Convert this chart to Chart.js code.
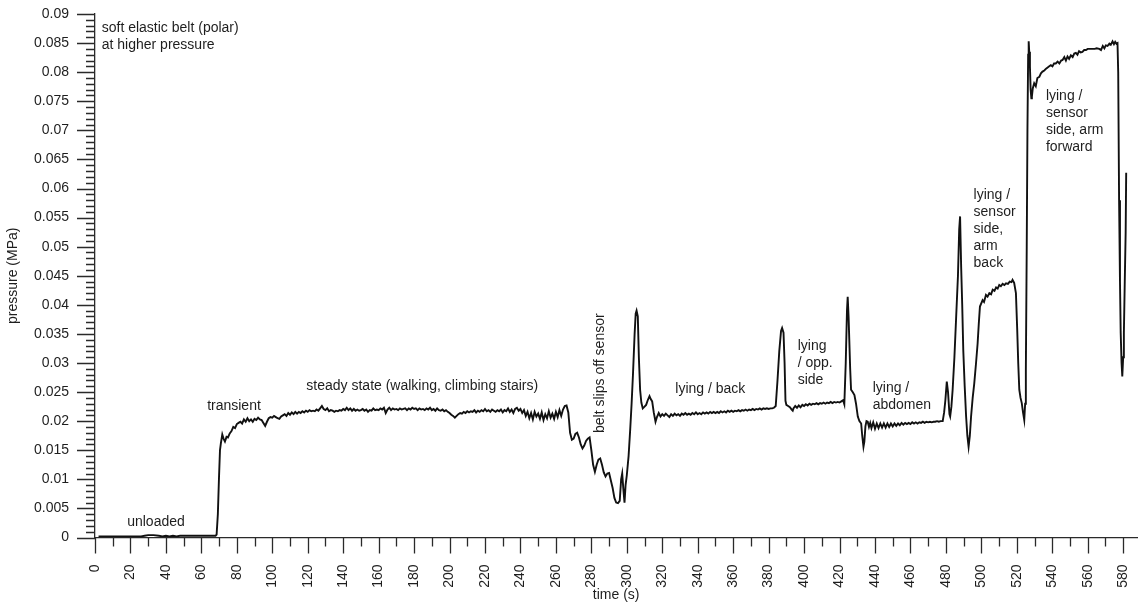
<!DOCTYPE html>
<html>
<head>
<meta charset="utf-8">
<script src="https://cdn.jsdelivr.net/npm/chart.js@4.4.1/dist/chart.umd.min.js"></script>
<style>
  html, body { margin: 0; padding: 0; background: #fff; }
  #wrap { width: 1140px; height: 604px; position: relative; }
</style>
</head>
<body>
<div id="wrap"><canvas id="trace" width="1140" height="604"></canvas></div>
<script>
// Pressure trace of the soft elastic belt, [time (s), pressure (MPa)] per phase.
const unloaded = [[2,0.0002],[6,0.0002],[10,0.0002],[14,0.0002],[18,0.0002],[22,0.0002],[26,0.0002],[28,0.0003],[30,0.0004],[33,0.0004],[36,0.0003],[38,0.0002],[40,0.0003],[42,0.0002],[44,0.0003],[46,0.0002],[48,0.0003],[52,0.0003],[56,0.0003],[60,0.0003],[64,0.0003],[68,0.0003]];

const transient = [[68.6,0.0005],[69.3,0.004],[69.9,0.0099],[70.5,0.015],[71,0.0162],[71.8,0.0177],[72.5,0.017],[73.3,0.0165],[74.2,0.0173],[75,0.0172],[76,0.0179],[77,0.0183],[78,0.019],[79,0.0188],[80,0.0195],[81,0.0197],[82,0.0199],[83,0.0196],[84,0.0203],[85,0.0199],[86,0.0205],[87,0.02],[88,0.0203],[89,0.0199],[90,0.0204],[91,0.0202],[92,0.0206],[93,0.0203],[94,0.0202],[95,0.0197],[96,0.0192],[97,0.0199],[98,0.0205],[99,0.0207]];

const steadyState = [[100,0.0206],[101,0.0209],[102,0.0207],[103,0.0205],[104,0.0204],[105,0.0208],[106,0.021],[107,0.0212],[108,0.0209],[109,0.0214],
[110,0.0211],[111,0.0215],[112,0.0212],[113,0.0216],[114,0.0213],[115,0.0216],[116,0.0214],[117,0.0217],[118,0.0215],[119,0.0218],
[120,0.0216],[121,0.0219],[122,0.0217],[123,0.0218],[124,0.0217],[125,0.022],[126,0.0218],[127,0.0222],[128,0.0226],[129,0.0221],
[130,0.0219],[131,0.0222],[132,0.0217],[133,0.0219],[134,0.0218],[135,0.0216],[136,0.0218],[137,0.0217],[138,0.0219],[139,0.0218],
[140,0.0221],[141,0.0219],[142,0.0223],[143,0.0219],[144,0.0222],[145,0.0218],[146,0.0221],[147,0.0218],[148,0.022],[149,0.0218],
[150,0.0219],[151,0.0221],[152,0.0218],[153,0.022],[154,0.0216],[155,0.0219],[156,0.0218],[157,0.0222],[158,0.0219],[159,0.022],
[160,0.0219],[161,0.0222],[162,0.022],[163,0.0223],[164,0.0214],[165,0.022],[166,0.0223],[167,0.0219],[168,0.0222],[169,0.022],
[170,0.0221],[171,0.0219],[172,0.0222],[173,0.022],[174,0.0221],[175,0.0222],[176,0.0219],[177,0.0222],[178,0.022],[179,0.0223],
[180,0.0221],[181,0.0222],[182,0.0219],[183,0.0222],[184,0.022],[185,0.0221],[186,0.0219],[187,0.0222],[188,0.022],[189,0.0223],
[190,0.0219],[191,0.0221],[192,0.0218],[193,0.0222],[194,0.0219],[195,0.0218],[196,0.022],[197,0.0217],[198,0.0219],[199,0.0216],
[200,0.0214],[201,0.0211],[202,0.0209],[203,0.0206],[204,0.0209],[205,0.0212],[206,0.0214],[207,0.0213],[208,0.0216],[209,0.0214],
[210,0.0217],[211,0.0215],[212,0.0217],[213,0.0216],[214,0.0219],[215,0.0215],[216,0.0218],[217,0.0216],[218,0.0219],[219,0.0217],
[220,0.0221],[221,0.0217],[222,0.0219],[223,0.0216],[224,0.022],[225,0.0218],[226,0.0216],[227,0.0219],[228,0.0217],[229,0.022],
[230,0.0215],[231,0.0219],[232,0.0217],[233,0.0222],[234,0.0216],[235,0.022],[236,0.0214],[237,0.0221],[238,0.0223],[239,0.0218],
[240,0.0221],[241,0.0214],[242,0.0219],[243,0.0209],[244,0.0216],[245,0.0205],[246,0.0214],[247,0.0203],[248,0.0216],[249,0.0208],
[250,0.0213],[251,0.0204],[252,0.0215],[253,0.0202],[254,0.0212],[255,0.0205],[256,0.0217],[257,0.0206],[258,0.0213],[259,0.0204],
[260,0.0216],[261,0.0207],[262,0.0219],[263,0.0209],[264,0.022],[265,0.0226],[266,0.0227],[267,0.0215]];

const beltSlip = [[268,0.018],[269,0.0168],[270,0.017],[271,0.0178],[272,0.018],[273,0.0172],[274,0.016],[275,0.0153],[276,0.0158],[277,0.0166],
[278,0.017],[279,0.0172],[280,0.015],[281,0.0125],[282,0.0113],[283,0.0125],[284,0.0134],[285,0.0136],[286,0.0125],[287,0.0112],
[288,0.0105],[289,0.011],[290,0.0111],[291,0.0098],[292,0.0085],[293,0.0068],[294,0.006],[295,0.0059],[296,0.0063],[296.8,0.01],
[297.4,0.011],[298,0.0085],[298.7,0.006],[299.3,0.009],[300,0.0107],[301,0.014],[301.9,0.0185],[302.7,0.023],[303.5,0.0282],[304.4,0.035],
[305,0.0385],[305.5,0.039],[306.2,0.038],[306.8,0.031],[307.5,0.0254],[308.2,0.0232],[309,0.0222],[310,0.0225],[310.9,0.0228],[311.8,0.0236],
[312.8,0.0243],[313.5,0.0238],[314.3,0.0234],[315.2,0.0215],[316.2,0.0199],[317,0.0207],[318,0.0214],[319,0.0208]];

const lyingBack = [[320,0.0212],[321,0.0209],[322,0.0213],[323,0.021],[324,0.0207],[325,0.0212],[326,0.0209],[327,0.0213],[328,0.021],[329,0.0212],
[330,0.0209],[331,0.0213],[332,0.0211],[333,0.0214],[334,0.0211],[335,0.0213],[336,0.0211],[337,0.0214],[338,0.0212],[339,0.0215],
[340,0.0212],[341,0.0214],[342,0.0212],[343,0.0215],[344,0.0213],[345,0.0215],[346,0.0213],[347,0.0216],[348,0.0214],[349,0.0216],
[350,0.0214],[351,0.0216],[352,0.0214],[353,0.0217],[354,0.0215],[355,0.0217],[356,0.0215],[357,0.0218],[358,0.0216],[359,0.0218],
[360,0.0216],[361,0.0218],[362,0.0217],[363,0.0219],[364,0.0217],[365,0.0219],[366,0.0218],[367,0.022],[368,0.0218],[369,0.022],
[370,0.0219],[371,0.0221],[372,0.0219],[373,0.0221],[374,0.022],[375,0.0222],[376,0.022],[377,0.0222],[378,0.0221],[379,0.0222],
[380,0.0221],[381,0.0222],[382,0.0222],[383,0.0223],[384,0.0226],[385,0.027],[386,0.032],[387,0.0355],[387.6,0.036],[388.4,0.0352],
[389,0.03],[389.5,0.0235]];

const lyingOppSide = [[390,0.0228],[391,0.0226],[392,0.0224],[393,0.022],[393.6,0.0218],[394,0.0222],[395,0.0226],[396,0.0223],[397,0.0227],[398,0.0224],
[399,0.0228],[400,0.0226],[401,0.0229],[402,0.0227],[403,0.023],[404,0.0228],[405,0.023],[406,0.0229],[407,0.0231],[408,0.0229],
[409,0.0231],[410,0.023],[411,0.0232],[412,0.023],[413,0.0232],[414,0.0231],[415,0.0233],[416,0.0231],[417,0.0233],[418,0.0232],
[419,0.0233],[420,0.0232],[421,0.0234],[422,0.0236],[422.7,0.0229],[423.5,0.03],[424.2,0.039],[424.6,0.0414],[425.1,0.038],[425.5,0.034],
[426,0.029],[426.5,0.0254],[427.4,0.025],[428.4,0.0245],[429.3,0.023],[430.3,0.0208],[431.2,0.02],[432.2,0.0196],[432.8,0.0175],[433.5,0.0156],
[434,0.0165],[434.6,0.0191],[435.2,0.02]];

const lyingAbdomen = [[435.9,0.0199],[436.6,0.019],[437.3,0.0197],[438,0.0188],[439,0.0198],[440,0.0187],[441,0.0196],[442,0.0188],[443,0.0196],[444,0.0189],
[445,0.0196],[446,0.0189],[447,0.0196],[448,0.019],[449,0.0196],[450,0.0191],[451,0.0196],[452,0.0192],[453,0.0196],[454,0.0193],
[455,0.0197],[456,0.0194],[457,0.0197],[458,0.0195],[459,0.0197],[460,0.0195],[461,0.0198],[462,0.0196],[463,0.0198],[464,0.0196],
[465,0.0198],[466,0.0197],[467,0.0199],[468,0.0197],[469,0.0199],[470,0.0198],[471,0.0199],[472,0.0198],[473,0.0199],[474,0.0199],
[475,0.02],[476,0.0199],[477,0.02],[478.2,0.02],[479,0.0215],[479.7,0.0236],[480.5,0.0268],[481.2,0.025],[482,0.0212],[482.4,0.0208],
[483.1,0.0225],[483.8,0.0254],[484.8,0.031],[485.8,0.038],[486.8,0.045],[487.5,0.053],[488,0.0552],[488.6,0.0466],[489.2,0.04],[489.8,0.0322],
[490.6,0.026],[491.4,0.0208],[492.1,0.0175],[492.8,0.0156],[493.5,0.0175],[494.2,0.0208],[495.1,0.024],[496,0.0265],[497,0.03],[497.9,0.0334],
[498.6,0.037],[499.2,0.0397]];

const sensorSideArmBack = [[500,0.0403],[500.7,0.0408],[501.5,0.0405],[502.6,0.0417],[503.5,0.0414],[504.5,0.042],[505.5,0.0418],[506.4,0.0426],[507.4,0.0424],[508.3,0.043],
[509.2,0.0428],[510.1,0.0434],[511,0.0432],[512,0.0436],[513,0.0434],[513.9,0.0437],[515,0.0436],[516,0.044],[517,0.0439],[517.6,0.0443],
[518.5,0.0438],[519.5,0.042],[520.2,0.036],[520.8,0.03],[521.4,0.0254],[522.1,0.024],[522.8,0.0231],[523.5,0.0215],[524.2,0.0202],[524.7,0.023],
[525.1,0.0288],[525.6,0.05],[526,0.07],[526.4,0.083]];

const sensorSideArmForward = [[526.7,0.0853],[527,0.0835],[527.4,0.081],[527.8,0.077],[528.2,0.0755],[528.5,0.0758],[529,0.0772],[529.8,0.0781],[530.7,0.0776],[531.6,0.079],
[532.7,0.0792],[533.6,0.0798],[534.5,0.0801],[535.5,0.0803],[536.5,0.0806],[537.4,0.0808],[538.3,0.081],[539.2,0.0812],[540.1,0.081],[541,0.0815],
[542,0.0815],[543,0.0818],[544,0.0815],[545,0.082],[545.8,0.0821],[546.8,0.0826],[547.7,0.082],[548.6,0.0827],[549.5,0.0823],[550.5,0.0829],
[551.5,0.0826],[552.4,0.0832],[553.3,0.0833],[554.2,0.083],[555.1,0.0836],[556,0.0834],[557,0.0835],[558,0.0838],[559,0.0838],[560,0.084],
[561,0.084],[562,0.084],[563,0.084],[564,0.084],[565,0.0841],[566.5,0.084],[567.5,0.0838],[568.5,0.0845],[569.4,0.0841],[570.2,0.0846],
[571.2,0.0845],[572.2,0.0849],[573,0.0847],[574,0.0853],[574.8,0.0848],[575.5,0.0852],[576.2,0.0849],[576.8,0.085],[577.2,0.08],[577.7,0.058],
[578.2,0.044],[578.6,0.0352],[579.1,0.03],[579.5,0.0277],[580,0.031],[580.4,0.0352],[580.9,0.044],[581.4,0.0524],[581.7,0.0627]];

// Axis ticks
const timeTicks = [0,20,40,60,80,100,120,140,160,180,200,220,240,260,280,300,320,340,360,380,400,420,440,460,480,500,520,540,560,580];
const pressureTicks = [0,0.005,0.01,0.015,0.02,0.025,0.03,0.035,0.04,0.045,0.05,0.055,0.06,0.065,0.07,0.075,0.08,0.085,0.09];

// Phase notes, anchored in data units (time s, pressure MPa)
const notes = [
  { t: 3.8,   p: 0.08757, lines: ['soft elastic belt (polar)', 'at higher pressure'], align: 'left' },
  { t: 34.4,  p: 0.0027,  lines: ['unloaded'], align: 'center' },
  { t: 78.4,  p: 0.0226,  lines: ['transient'], align: 'center' },
  { t: 184.6, p: 0.026,   lines: ['steady state (walking, climbing stairs)'], align: 'center' },
  { t: 285.2, p: 0.02825, lines: ['belt slips off sensor'], align: 'center', vertical: true },
  { t: 347.1, p: 0.0255,  lines: ['lying / back'], align: 'center' },
  { t: 396.4, p: 0.0329,  lines: ['lying', '/ opp.', 'side'], align: 'left' },
  { t: 438.7, p: 0.02576, lines: ['lying /', 'abdomen'], align: 'left' },
  { t: 495.6, p: 0.0588,  lines: ['lying /', 'sensor', 'side,', 'arm', 'back'], align: 'left' },
  { t: 536.4, p: 0.0758,  lines: ['lying /', 'sensor', 'side, arm', 'forward'], align: 'left' }
];

const FONT = '"Liberation Sans", Arial, Helvetica, sans-serif';
const INK = '#1e1e1e';

const trace = [].concat(unloaded, transient, steadyState, beltSlip, lyingBack,
  lyingOppSide, lyingAbdomen, sensorSideArmBack, sensorSideArmForward)
  .map(([t, p]) => ({ x: t, y: p }));

// Tick marks (major + minor), axis titles and phase notes
const decorations = {
  id: 'decorations',
  afterDraw(chart) {
    const { ctx, chartArea, scales: { x, y } } = chart;
    ctx.save();
    ctx.strokeStyle = '#2a2a2a';
    ctx.lineWidth = 1.3;
    ctx.beginPath();
    const left = chartArea.left, bottom = chartArea.bottom;
    for (let i = 0; i <= 90; i++) {
      const py = Math.round(y.getPixelForValue(i / 1000)) + 0.5;
      const len = i % 5 === 0 ? 18 : 9;
      ctx.moveTo(left - len, py); ctx.lineTo(left, py);
    }
    for (let s = 0; s <= 580; s += 10) {
      const px = Math.round(x.getPixelForValue(s)) + 0.5;
      const len = s % 20 === 0 ? 16 : 9;
      ctx.moveTo(px, bottom); ctx.lineTo(px, bottom + len);
    }
    ctx.stroke();

    ctx.fillStyle = INK;
    ctx.font = '14px ' + FONT;
    ctx.textBaseline = 'middle';
    // axis titles
    ctx.textAlign = 'center';
    ctx.fillText('time (s)', (chartArea.left + chartArea.right) / 2, 595);
    ctx.save();
    ctx.translate(13, (chartArea.top + chartArea.bottom) / 2);
    ctx.rotate(-Math.PI / 2);
    ctx.fillText('pressure (MPa)', 0, 0);
    ctx.restore();

    // phase notes
    const lh = 17;
    notes.forEach(n => {
      const px = x.getPixelForValue(n.t);
      const py = y.getPixelForValue(n.p);
      if (n.vertical) {
        ctx.save();
        ctx.translate(px, py);
        ctx.rotate(-Math.PI / 2);
        ctx.textAlign = 'center';
        ctx.fillText(n.lines[0], 0, 0);
        ctx.restore();
      } else {
        ctx.textAlign = n.align;
        n.lines.forEach((ln, i) => ctx.fillText(ln, px, py + i * lh));
      }
    });
    ctx.restore();
  }
};

new Chart(document.getElementById('trace'), {
  type: 'line',
  data: {
    datasets: [{
      data: trace,
      borderColor: '#111',
      borderWidth: 1.9,
      pointRadius: 0,
      tension: 0,
      fill: false
    }]
  },
  options: {
    responsive: false,
    animation: false,
    events: [],
    layout: { padding: { top: 14, right: 2, left: 0, bottom: 0 } },
    plugins: { legend: { display: false }, tooltip: { enabled: false } },
    scales: {
      x: {
        type: 'linear',
        min: 0,
        max: 588,
        afterBuildTicks: s => { s.ticks = timeTicks.map(v => ({ value: v })); },
        afterFit: s => { s.height = 66.5; },
        grid: { display: false, drawTicks: true, tickLength: 27, tickColor: 'rgba(0,0,0,0)' },
        border: { display: true, color: '#2a2a2a', width: 1.3 },
        ticks: {
          autoSkip: false,
          minRotation: 90,
          maxRotation: 90,
          padding: 0,
          color: INK,
          font: { family: FONT, size: 14 },
          callback: v => String(v)
        }
      },
      y: {
        type: 'linear',
        min: 0,
        max: 0.09,
        afterBuildTicks: s => { s.ticks = pressureTicks.map(v => ({ value: v })); },
        afterFit: s => { s.width = 95; },
        grid: { display: false, drawTicks: true, tickLength: 26, tickColor: 'rgba(0,0,0,0)' },
        border: { display: true, color: '#2a2a2a', width: 1.3 },
        ticks: {
          padding: 0,
          color: INK,
          font: { family: FONT, size: 14 },
          callback: v => String(+v.toFixed(3))
        }
      }
    }
  },
  plugins: [decorations]
});
</script>
</body>
</html>
